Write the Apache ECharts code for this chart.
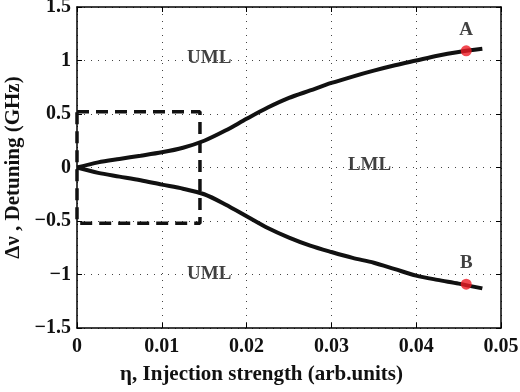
<!DOCTYPE html>
<html><head><meta charset="utf-8">
<script src="https://cdn.jsdelivr.net/npm/echarts@6/dist/echarts.min.js"></script>
<style>html,body{margin:0;padding:0;background:#fff}#c{width:520px;height:392px}</style>
</head><body><div id="c"></div>
<script>
const eta = [0, 0.0025, 0.005, 0.0075, 0.01, 0.0125, 0.015, 0.0175, 0.02, 0.0225, 0.025, 0.0275, 0.03, 0.0325, 0.035, 0.0375, 0.04, 0.0425, 0.045, 0.0478];
const upperDetuning = [0, 0.048, 0.08, 0.11, 0.142, 0.185, 0.25, 0.345, 0.455, 0.56, 0.65, 0.72, 0.79, 0.85, 0.905, 0.955, 1.0, 1.045, 1.08, 1.11];
const lowerDetuning = [0, -0.05, -0.085, -0.12, -0.16, -0.198, -0.25, -0.345, -0.455, -0.565, -0.655, -0.73, -0.79, -0.845, -0.89, -0.95, -1.01, -1.05, -1.085, -1.13];
const boxEta = [0, 0.0145, 0.0145, 0, 0];
const boxDetuning = [0.52, 0.52, -0.52, -0.52, 0.52];
const markerEta = [0.0459, 0.0459];
const markerDetuning = [1.09, -1.09];
const markerNames = ['A', 'B'];
const regionLabels = [
  {text: 'UML', x: 0.0156, y: 1.02},
  {text: 'LML', x: 0.0345, y: 0.02},
  {text: 'UML', x: 0.0156, y: -1.0}
];
const xTicks = ['0', '0.01', '0.02', '0.03', '0.04', '0.05'];
const yTicks = ['\u22121.5', '\u22121', '\u22120.5', '0', '0.5', '1', '1.5'];

const font = 'Liberation Serif';
const zip = (a, b) => a.map((v, i) => [v, b[i]]);
const chart = echarts.init(document.getElementById('c'));
const axisCommonX = {type: 'value', min: 0, max: 0.05, interval: 0.01};
const axisCommonY = {type: 'value', min: -1.5, max: 1.5, interval: 0.5};
const lineStyleAxis = {color: '#000', width: 1.5};
const txt = (size) => ({fontFamily: font, fontWeight: 'bold', fontSize: size, color: '#111'});
chart.setOption({
  animation: false,
  grid: {left: 77, right: 19, top: 7, bottom: 64, containLabel: false, outerBoundsMode: 'none'},
  xAxis: [
    Object.assign({}, axisCommonX, {
      position: 'bottom',
      name: '\u03b7, Injection strength (arb.units)',
      nameLocation: 'middle', nameGap: 36,
      nameTextStyle: Object.assign(txt(21), {padding: [0, 55, 0, 0]}),
      axisLine: {show: true, onZero: false, lineStyle: lineStyleAxis},
      axisTick: {show: true, inside: true, length: 5, lineStyle: {color: '#000', width: 1}},
      axisLabel: Object.assign(txt(20), {margin: 9,
        formatter: (v) => xTicks[Math.round(v / 0.01)]}),
      splitLine: {show: true, lineStyle: {color: '#444', width: 1, type: [1, 6]}}
    }),
    Object.assign({}, axisCommonX, {
      position: 'top',
      axisLine: {show: true, onZero: false, lineStyle: lineStyleAxis},
      axisTick: {show: true, inside: true, length: 5, lineStyle: {color: '#000', width: 1}},
      axisLabel: {show: false}, splitLine: {show: false}
    })
  ],
  yAxis: [
    Object.assign({}, axisCommonY, {
      position: 'left',
      name: '\u0394\u03bd , Detuning (GHz)',
      nameLocation: 'middle', nameGap: 50,
      nameTextStyle: txt(21),
      axisLine: {show: true, onZero: false, lineStyle: lineStyleAxis},
      axisTick: {show: true, inside: true, length: 5, lineStyle: {color: '#000', width: 1}},
      axisLabel: Object.assign(txt(20), {margin: 6,
        formatter: (v) => yTicks[Math.round((v + 1.5) / 0.5)]}),
      splitLine: {show: true, lineStyle: {color: '#444', width: 1, type: [1, 6]}}
    }),
    Object.assign({}, axisCommonY, {
      position: 'right',
      axisLine: {show: true, onZero: false, lineStyle: lineStyleAxis},
      axisTick: {show: true, inside: true, length: 5, lineStyle: {color: '#000', width: 1}},
      axisLabel: {show: false}, splitLine: {show: false}
    })
  ],
  series: [
    {type: 'line', data: zip(boxEta, boxDetuning), showSymbol: false, symbol: 'none', z: 3,
      lineStyle: {color: '#111', width: 3.5, type: [12, 7]}},
    {type: 'line', data: zip(eta, upperDetuning), smooth: 0.3, symbol: 'none', z: 4,
      lineStyle: {color: '#111', width: 4}},
    {type: 'line', data: zip(eta, lowerDetuning), smooth: 0.3, symbol: 'none', z: 4,
      lineStyle: {color: '#111', width: 4}},
    {type: 'scatter', data: zip(markerEta, markerDetuning).map((p, i) => ({value: p, name: markerNames[i]})),
      symbolSize: 11, z: 6, itemStyle: {color: '#ee1c25'},
      label: Object.assign(txt(19), {show: true, position: 'top', distance: 6, formatter: (p) => p.name})},
    {type: 'scatter', data: regionLabels.map(r => ({value: [r.x, r.y], name: r.text})),
      symbolSize: 0, z: 5,
      label: Object.assign(txt(19), {show: true, position: 'inside', formatter: (p) => p.name})}
  ]
});
</script></body></html>
